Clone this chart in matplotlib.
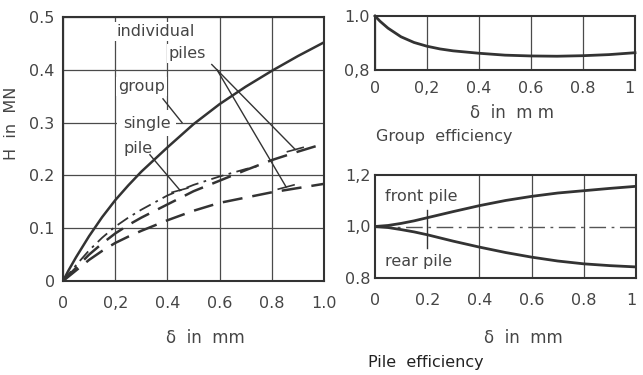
import numpy as np
import matplotlib
matplotlib.use("Agg")
import matplotlib.pyplot as plt

# load-displacement curves, H in MN vs delta in mm
d_solid = [0, 0.02, 0.05, 0.1, 0.15, 0.2, 0.25, 0.3, 0.4, 0.5, 0.6, 0.7, 0.8, 0.9, 1.0]
h_group = [0, 0.019, 0.045, 0.085, 0.121, 0.153, 0.181, 0.207, 0.253, 0.297, 0.335, 0.368,
           0.398, 0.426, 0.452]

d_single = [0, 0.02, 0.05, 0.1, 0.15, 0.2, 0.25, 0.3, 0.4, 0.5, 0.6, 0.7, 0.75]
h_single = [0, 0.012, 0.03, 0.058, 0.082, 0.103, 0.12, 0.135, 0.162, 0.182, 0.198, 0.212, 0.218]

d_ind = [0, 0.02, 0.05, 0.1, 0.15, 0.2, 0.25, 0.3, 0.4, 0.5, 0.6, 0.7, 0.8, 0.9, 1.0]
h_front = [0, 0.01, 0.025, 0.05, 0.071, 0.09, 0.106, 0.12, 0.145, 0.17, 0.19, 0.21, 0.229,
           0.245, 0.26]
h_rear = [0, 0.008, 0.02, 0.04, 0.057, 0.072, 0.084, 0.095, 0.115, 0.133, 0.148, 0.158, 0.168,
          0.176, 0.184]

# group efficiency
d_eff = [0, 0.02, 0.05, 0.1, 0.15, 0.2, 0.25, 0.3, 0.4, 0.5, 0.6, 0.7, 0.8, 0.9, 1.0]
eff_group = [1.0, 0.98, 0.955, 0.923, 0.902, 0.888, 0.878, 0.871, 0.862, 0.855, 0.852, 0.851,
             0.853, 0.857, 0.864]

# pile efficiency
d_pile = [0, 0.05, 0.1, 0.15, 0.2, 0.3, 0.4, 0.5, 0.6, 0.7, 0.8, 0.9, 1.0]
eff_front = [1.0, 1.004, 1.012, 1.022, 1.034, 1.058, 1.081, 1.101, 1.117, 1.13, 1.139, 1.148, 1.156]
eff_rear = [1.0, 0.996, 0.988, 0.979, 0.968, 0.943, 0.92, 0.899, 0.881, 0.866, 0.855, 0.848, 0.843]

left_xlabels = ["0", "0,2", "0.4", "0.6", "0.8", "1.0"]
left_ylabels = ["0", "0.1", "0.2", "0.3", "0.4", "0.5"]
top_xlabels = ["0", "0,2", "0.4", "0.6", "0.8", "1"]
bot_xlabels = ["0", "0.2", "0.4", "0.6", "0.8", "1"]

ink = "#333333"
txt = "#454545"
plt.rcParams["font.family"] = ["DejaVu Sans"]
plt.rcParams["font.size"] = 11.5

fig = plt.figure(figsize=(6.43, 3.75), dpi=100)
W, H = 643, 375


def box(l, t, r, b):
    return [l / W, 1 - b / H, (r - l) / W, (b - t) / H]


def style(ax, pad_x, pad_y):
    for s in ax.spines.values():
        s.set_linewidth(1.5)
        s.set_color(ink)
    ax.tick_params(length=0, labelcolor=txt, labelsize=11.5)
    ax.tick_params(axis="x", pad=pad_x)
    ax.tick_params(axis="y", pad=pad_y)


# ---- left: H vs delta
ax = fig.add_axes(box(63, 17, 324, 281))
ax.set_xlim(0, 1.0)
ax.set_ylim(0, 0.5)
ax.set_xticks(np.arange(0, 1.01, 0.2), left_xlabels)
ax.set_yticks(np.arange(0, 0.51, 0.1), left_ylabels)
ax.grid(True, color="#4a4a4a", lw=0.9)
ax.set_axisbelow(True)
style(ax, 11, 6)

ax.plot(d_solid, h_group, color=ink, lw=1.8, zorder=3)
ax.plot(d_single, h_single, color=ink, lw=1.3, dashes=(7, 3, 1.5, 3), zorder=3)
ax.plot(d_ind, h_front, color=ink, lw=1.8, dashes=(8, 4), zorder=3)
ax.plot(d_ind, h_rear, color=ink, lw=1.8, dashes=(8, 4), zorder=3)

bb = dict(facecolor="white", edgecolor="none", pad=1.5)
ax.text(0.205, 0.472, "individual", color=txt, va="center", bbox=bb, zorder=4)
ax.text(0.406, 0.431, "piles", color=txt, va="center", bbox=bb, zorder=4)
ax.text(0.211, 0.368, "group", color=txt, va="center", bbox=bb, zorder=4)
ax.text(0.23, 0.299, "single", color=txt, va="center",
        bbox=dict(facecolor="white", edgecolor="none", pad=4), zorder=4)
ax.text(0.23, 0.251, "pile", color=txt, va="center", bbox=bb, zorder=4)

# leader lines
leaders = [((0.57, 0.41), (0.89, 0.249)),
           ((0.59, 0.40), (0.855, 0.178)),
           ((0.383, 0.345), (0.456, 0.30)),
           ((0.333, 0.239), (0.448, 0.172))]
for (x0, y0), (x1, y1) in leaders:
    ax.plot([x0, x1], [y0, y1], color=ink, lw=1.0, zorder=5)
for xc, yc in [(0.89, 0.249), (0.855, 0.178), (0.448, 0.172)]:
    ax.plot([xc - 0.03, xc + 0.03], [yc - 0.004, yc + 0.004], color=ink, lw=1.2, zorder=5)

fig.text(205 / W, 1 - 338 / H, "δ  in  mm", ha="center", va="center", color=txt, fontsize=12)
fig.text(12 / W, 1 - 123 / H, "H  in  MN", ha="center", va="center", rotation=90, color=txt,
         fontsize=11.5)

# ---- top right: group efficiency
ax2 = fig.add_axes(box(375, 16, 635, 70))
ax2.set_xlim(0, 1.0)
ax2.set_ylim(0.8, 1.0)
ax2.set_xticks(np.arange(0, 1.01, 0.2), top_xlabels)
ax2.set_yticks([0.8, 1.0], ["0,8", "1.0"])
ax2.grid(True, axis="x", color="#4a4a4a", lw=0.9)
style(ax2, 8, 4)
ax2.get_xticklabels()[-1].set_ha("right")
ax2.plot(d_eff, eff_group, color=ink, lw=2.0, clip_on=False)
fig.text(512 / W, 1 - 113 / H, "δ  in  m m", ha="center", va="center", color=txt, fontsize=12)
fig.text(376 / W, 1 - 137 / H, "Group  efficiency", ha="left", va="center", color=txt,
         fontsize=11.5)

# ---- bottom right: pile efficiency
ax3 = fig.add_axes(box(375, 175, 636, 278))
ax3.set_xlim(0, 1.0)
ax3.set_ylim(0.8, 1.2)
ax3.set_xticks(np.arange(0, 1.01, 0.2), bot_xlabels)
ax3.set_yticks([0.8, 1.0, 1.2], ["0.8", "1,0", "1,2"])
style(ax3, 11, 3)
ax3.get_xticklabels()[-1].set_ha("right")
for xv in [0.4, 0.6, 0.8]:
    ax3.axvline(xv, color="#4a4a4a", lw=0.9, zorder=1)
ax3.plot([0.2, 0.2], [0.917, 1.064], color=ink, lw=1.0, zorder=2)
ax3.axhline(1.0, color="#555555", lw=1.0, dashes=(12, 4, 2, 4), zorder=2)
ax3.plot(d_pile, eff_front, color=ink, lw=2.0, zorder=3)
ax3.plot(d_pile, eff_rear, color=ink, lw=2.0, zorder=3)
ax3.text(0.038, 1.116, "front pile", color=txt, va="center", fontsize=11.5)
ax3.text(0.038, 0.863, "rear pile", color=txt, va="center", fontsize=11.5)
fig.text(523 / W, 1 - 338 / H, "δ  in  mm", ha="center", va="center", color=txt, fontsize=12)
fig.text(368 / W, 1 - 362 / H, "Pile  efficiency", ha="left", va="center", color="#222222",
         fontsize=11.5)

fig.savefig("out.png", dpi=100)
